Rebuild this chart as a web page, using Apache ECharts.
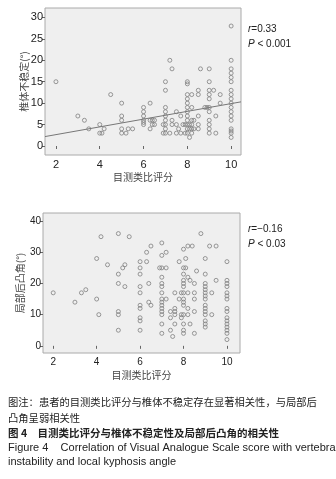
<!DOCTYPE html>
<html>
<head>
<meta charset="utf-8">
<script src="https://cdn.jsdelivr.net/npm/echarts@6/dist/echarts.min.js"></script>
<style>
html,body{margin:0;padding:0;background:#fff;}
#chart{width:336px;height:479px;}
</style>
</head>
<body>
<div id="chart"></div>
<script>
// 目测类比评分 vs 椎体不稳定(°)
var topPoints = [
	[2,15],[3,7],[3.3,6],[3.5,4],[4,5],[4,3],[4.1,3],[4.2,4],[4.5,12],
	[5,10],[5,7],[5,6],[5,4],[5,3],[5.2,3],[5.3,4],[5.5,4],
	[6,9],[6,8],[6,7],[6,6],[6,5.5],[6,5],[6.3,10],[6.3,6],[6.4,6],[6.5,6],[6.4,5],[6.5,5],[6.3,4],
	[7,15],[7,13],[7,9],[7,8],[7,7],[7,6],[7,5],[7,4],[7,3],[6.9,5],[6.9,3],
	[7.2,20],[7.3,18],[7.2,3],[7.5,3],[7.3,5],[7.5,5],[7.3,6],[7.5,8],[7.7,7],[7.6,4],[7.8,5],[7.9,3],[7.7,3],
	[8,15],[8,14.5],[8,12],[8,11],[8,10],[8,9],[8,8],[8,7],[8,6],[8,5],[8,4],[8,3],[8.1,2],[7.9,5],
	[8.2,12],[8.2,9],[8.2,6],[8.1,5],[8.2,5],[8.2,4],[8.3,4],[8.3,6],[8.1,4],[8.2,3],
	[8.5,13],[8.5,12],[8.5,7],[8.5,5],[8.5,4],[8.6,18],[8.8,9],
	[9,18],[9,15],[9,13],[9,12],[9,11],[9,9],[8.9,9],[9,8],[9,6],[9,5],[9,4],[9,3],
	[9.2,13],[9.3,7],[9.3,3],[9.5,12],[9.5,10],
	[10,28],[10,20],[10,18],[10,17],[10,16],[10,15],[10,13],[10,12],[10,11],[10,10],[10,9],
	[10,8],[10,7],[10,6],[10,4],[10,3.5],[10,3],[10,2]
];
// fit line (ends at the plot edges)
var topFit = [[1.5,2.2],[10.45,10.3]];

// 目测类比评分 vs 局部后凸角(°)
var bottomPoints = [
	[2,17],[3,14],[3.3,17],[3.5,18],[4,28],[4,15],[4.1,10],[4.2,35],[4.5,26],
	[5,36],[5,23],[5,20],[5,11],[5,10],[5,5],[5.2,25],[5.3,26],[5.3,19],[5.5,35],
	[6,27],[6,25],[6,23],[6,19],[6,17],[6,13],[6,12],[6,9],[6,8],[6,5],
	[6.3,30],[6.3,27],[6.4,20],[6.4,14],[6.5,13],[6.5,32],
	[7,33],[7,29],[6.9,25],[7,25],[7,22],[7,20],[7,19],[7,17],[7,15],[7,14],[7,13],[7,12],[7,11],[7,10],[7,7],[7,4],
	[7.2,30],[7.2,25],[7.2,15],[7.4,11],[7.4,9],[7.4,5],
	[7.6,17],[7.6,12],[7.6,11],[7.6,10],[7.6,7],[7.5,3],[7.8,15],[7.8,27],[7.9,9],[7.9,17],[7.9,10],
	[8,31],[8,25],[8,23],[8,21],[8,20],[8,19],[8,17],[8,15],[8,14],[8,13],[8,10],[8,7],[8,5],[8,4],
	[8.1,25],[8.1,28],[8.2,32],[8.2,22],[8.3,21],[8.2,17],[8.2,12],[8.2,10],[8.3,7],[8.4,32],
	[8.5,15],[8.5,20],[8.5,17],[8.5,11],[8.5,4],[8.6,24],[8.8,36],
	[9,28],[9,23],[9,20],[9,19],[9,18],[9,17],[9,16],[9,15],[9,13],[9,12],[9,11],[9,10],[9,8],[9,7],[9,6],
	[9.2,32],[9.3,17],[9.3,10],[9.5,32],[9.5,21],
	[10,27],[10,21],[10,20],[10,19],[10,17],[10,16],[10,15],[10,12],[10,11],[10,9],
	[10,8],[10,7],[10,6],[10,5],[10,4],[10,2]
];

var xTicks = [2,4,6,8,10];
var topYTicks = [0,5,10,15,20,25,30];
var bottomYTicks = [0,10,20,30,40];

var xName = '目测类比评分';
var topYName = '椎体不稳定(°)';
var bottomYName = '局部后凸角(°)';
var topStats = ['r=0.33','P < 0.001'];
var bottomStats = ['r=\u22120.16','P < 0.03'];
var captions = [
	'图注：患者的目测类比评分与椎体不稳定存在显著相关性，与局部后',
	'凸角呈弱相关性',
	'图 4　目测类比评分与椎体不稳定性及局部后凸角的相关性',
	'Figure 4    Correlation of Visual Analogue Scale score with vertebral',
	'instability and local kyphosis angle'
];

var cjk = '"Noto Sans CJK SC", sans-serif';
var latin = 'Arial, "Liberation Sans", sans-serif';

function makeXAxis(idx, min, max, fs) {
	return {
		type:'value', gridIndex:idx, min:min, max:max,
		name: xName, nameLocation:'middle', nameGap:17,
		nameTextStyle:{color:'#444', fontSize:10, fontFamily:cjk},
		axisLine:{show:false},
		axisTick:{show:true, customValues:xTicks, length:3, lineStyle:{color:'#666'}},
		axisLabel:{customValues:xTicks, color:'#222', fontSize:fs, fontFamily:latin, margin:4},
		splitLine:{show:false}
	};
}
function makeYAxis(idx, min, max, ticks, name, fs, gap) {
	return {
		type:'value', gridIndex:idx, min:min, max:max,
		name: name, nameLocation:'middle', nameGap:gap, nameRotate:90,
		nameMoveOverlap:false,
		nameTextStyle:{color:'#444', fontSize:10, fontFamily:cjk},
		axisLine:{show:false},
		axisTick:{show:true, customValues:ticks, length:3, lineStyle:{color:'#666'}},
		axisLabel:{customValues:ticks, color:'#222', fontSize:fs, fontFamily:latin, margin:2},
		splitLine:{show:false}
	};
}

var pointStyle = {color:'rgba(255,255,255,0)', borderColor:'#808080', borderWidth:1};

function statText(top, lines) {
	return lines.map(function (t, i) {
		var head = t.charAt(0);
		return {
			type:'text', left:248, top: top + i*15,
			style:{
				text:'{i|' + head + '}' + t.slice(1),
				fill:'#222', font:'10px ' + latin,
				rich:{i:{fontStyle:'italic', fontSize:10, fontFamily:latin, fill:'#222'}}
			}
		};
	});
}

var graphics = statText(24, topStats).concat(statText(224, bottomStats));
var capTops = [397, 413, 428, 442, 456];
captions.forEach(function (t, i) {
	graphics.push({
		type:'text', left:8, top:capTops[i],
		style:{
			text:t, fill:'#222',
			font:(i === 2 ? 'bold 10.5px ' : (i >= 3 ? '11px ' : '10.3px ')) + (i >= 3 ? latin : cjk)
		}
	});
});

var chart = echarts.init(document.getElementById('chart'), null, {renderer:'canvas'});
chart.setOption({
	animation:false,
	grid:[
		{left:45, top:8, width:196, height:147, show:true, backgroundColor:'#efefef', borderColor:'#aaa', borderWidth:1},
		{left:43, top:213, width:197, height:140, show:true, backgroundColor:'#efefef', borderColor:'#aaa', borderWidth:1}
	],
	xAxis:[ makeXAxis(0, 1.5, 10.45, 11), makeXAxis(1, 1.53, 10.6, 10) ],
	yAxis:[
		makeYAxis(0, -2.1, 32.2, topYTicks, topYName, 11, 16),
		makeYAxis(1, -2.3, 42.6, bottomYTicks, bottomYName, 10, 18)
	],
	series:[
		{type:'scatter', xAxisIndex:0, yAxisIndex:0, data:topPoints, symbol:'circle', symbolSize:4, itemStyle:pointStyle},
		{type:'line', xAxisIndex:0, yAxisIndex:0, data:topFit, symbol:'none', lineStyle:{color:'#777', width:1}},
		{type:'scatter', xAxisIndex:1, yAxisIndex:1, data:bottomPoints, symbol:'circle', symbolSize:4, itemStyle:pointStyle}
	],
	graphic:graphics
});
</script>
</body>
</html>
